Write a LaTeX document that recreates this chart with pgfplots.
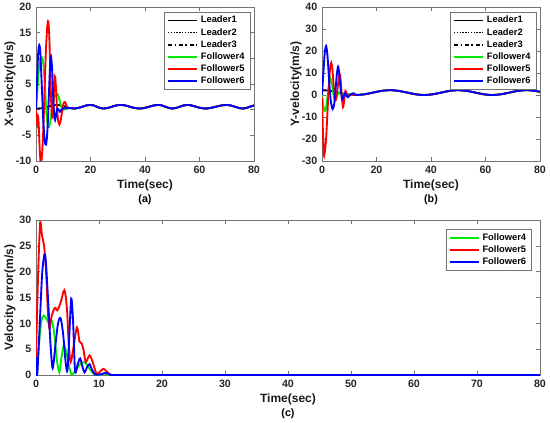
\documentclass[border=0pt]{standalone}
\usepackage{fontspec}
\setmainfont{Liberation Sans}
\usepackage{pgfplots}
\pgfplotsset{compat=1.18}
\usepackage{pgfplotstable}

\definecolor{axgray}{RGB}{115,115,115}
\definecolor{mgreen}{RGB}{0,235,0}
\definecolor{mred}{RGB}{255,0,0}
\definecolor{mblue}{RGB}{0,0,255}

% leader x-velocity
\pgfplotstableread{
t v
0 0.25
1.0 0.22
2.6 0.33
4.25 0.57
5.9 0.82
7.5 0.92
9.1 0.82
10.75 0.57
12.4 0.33
14 0.22
15.5 0.33
17 0.57
18.5 0.82
20 0.92
21.2 0.82
22.35 0.57
23.5 0.33
24.7 0.22
26.3 0.33
27.85 0.57
29.4 0.82
31 0.92
32.75 0.82
34.5 0.57
36.25 0.33
38 0.22
39.75 0.33
41.5 0.57
43.25 0.82
45 0.92
46.25 0.82
47.5 0.57
48.75 0.33
50 0.22
51.4 0.33
52.75 0.57
54.1 0.82
55.5 0.92
57.1 0.82
58.75 0.57
60.4 0.33
62 0.22
64 0.33
66 0.57
68 0.82
70 0.92
71.5 0.82
73 0.57
74.5 0.33
76 0.22
77.25 0.33
78.5 0.57
80 0.82
}\leadX

% leader y-velocity
\pgfplotstableread{
t v
0 2.2
3.125 1.88
6.25 1.1
9.375 0.32
12.5 0
15.625 0.32
18.75 1.1
21.875 1.88
25 2.2
28.125 1.88
31.25 1.1
34.375 0.32
37.5 0
40.625 0.32
43.75 1.1
46.875 1.88
50 2.2
53.125 1.88
56.25 1.1
59.375 0.32
62.5 0
65.625 0.32
68.75 1.1
71.875 1.88
75 2.2
78.125 1.88
80 1.44
}\leadY

\pgfplotsset{
 mystyle/.style={
  scale only axis,
  clip mode=individual,
  axis line style={axgray},
  every tick/.style={axgray, thin},
  major tick length=3pt,
  tick align=inside,
  xtick pos=both, ytick pos=both,
  tick label style={font=\fontsize{8}{9}\selectfont\bfseries, text=black!85},
  /pgf/number format/assume math mode=true,
  label style={font=\fontsize{9}{10}\selectfont\bfseries, text=black!90},
  xlabel={Time(sec)},
  xlabel style={yshift=2pt},
  every axis y label/.style={at={([xshift=-19.5pt]rel axis cs:0,0.5)}, rotate=90, anchor=center,
     font=\fontsize{9}{10}\selectfont\bfseries, text=black!90},
  legend style={font=\fontsize{7}{8}\selectfont\bfseries, draw=axgray, thin,
     inner xsep=2pt, inner ysep=1pt, row sep=-1.5pt},
  legend cell align=left,
  legend image code/.code={\draw[##1] (0pt,0pt) -- (22pt,0pt);},
  xmin=0, xmax=80,
  every axis plot/.append style={smooth},
 },
 fol/.style={line width=1.4pt},
 ldr/.style={line width=1.1pt, black},
}

\begin{document}
\begin{tikzpicture}
\path[use as bounding box] (0,0) rectangle (412.5pt,316.5pt);

% ---------------- (a)
\begin{axis}[mystyle,
  at={(27pt,195.75pt)}, anchor=south west,
  width=163.5pt, height=115.5pt,
  ymin=-10, ymax=20, ytick={-10,-5,0,5,10,15,20},
  xtick={0,20,40,60,80},
  ylabel={X-velocity(m/s)},
  legend style={at={(0.982,0.968)}, anchor=north east},
]
\addplot[ldr] table {\leadX};
\addlegendentry{Leader1}
\addplot[ldr, densely dotted] table {\leadX};
\addlegendentry{Leader2}
\addplot[ldr, dash dot] table {\leadX};
\addlegendentry{Leader3}
\addplot[fol, mgreen] coordinates {
(0,0) (0.5,4) (1.0,7.5) (1.5,9.5) (2.1,10.2) (2.7,9) (3.3,4.5) (3.9,-1.2) (4.6,-3.4) (5.2,-2.5)
(5.8,0) (6.5,2) (7.2,2.9) (7.9,3.0) (8.6,2) (9.3,0.5) (10,0) (10.8,0.1) (11.6,0.25) (12.4,0.33)};
\addlegendentry{Follower4}
\addplot[fol, mred] coordinates {
(0,0) (0.2,-1.8) (0.4,-2.8) (0.6,-1.4) (0.8,-1.3) (1.0,-3) (1.3,-7) (1.7,-10.3) (2.1,-9.5)
(2.6,-5) (3.1,3) (3.6,11) (4.1,16) (4.5,17.2) (4.9,14) (5.3,6) (5.7,0) (6.1,-1.5) (6.5,2.5)
(6.9,6.5) (7.3,4.5) (7.7,0.5) (8.1,-2) (8.6,-2.9) (9.1,-2) (9.6,-0.2) (10.1,1.2) (10.6,1.5)
(11.1,0.9) (11.6,0.3) (12.4,0.33)};
\addlegendentry{Follower5}
\addplot[fol, mblue] coordinates {
(0,0) (0.4,6) (0.8,11) (1.2,12.6) (1.6,11) (2.1,5) (2.7,-2.5) (3.2,-6) (3.7,-6.8) (4.2,-4)
(4.7,2.5) (5.2,9) (5.5,10.3) (5.9,8) (6.3,2.5) (6.7,-1) (7.0,-2) (7.4,-1) (7.8,0.2) (8.3,0)
(8.8,-0.4) (9.3,0) (10,0.25) (11,0.3) (11.8,0.3) (12.4,0.33)};
\addlegendentry{Follower6}
\addplot[fol, mgreen, forget plot, restrict x to domain=12.3:80] table {\leadX};
\addplot[fol, mred, forget plot, restrict x to domain=12.3:80] table {\leadX};
\addplot[fol, mblue, forget plot, restrict x to domain=12.3:80] table {\leadX};
\node[font=\fontsize{8}{9}\selectfont\bfseries] at (rel axis cs:0.5,0) [yshift=-29pt] {(a)};
\end{axis}

% ---------------- (b)
\begin{axis}[mystyle,
  at={(241.5pt,195.75pt)}, anchor=south west,
  width=163.5pt, height=115.5pt,
  ymin=-30, ymax=40, ytick={-30,-20,-10,0,10,20,30,40},
  xtick={0,20,40,60,80},
  ylabel={Y-velocity(m/s)},
  legend style={at={(0.982,0.968)}, anchor=north east},
]
\addplot[ldr] table {\leadY};
\addlegendentry{Leader1}
\addplot[ldr, densely dotted] table {\leadY};
\addlegendentry{Leader2}
\addplot[ldr, dash dot] table {\leadY};
\addlegendentry{Leader3}
\addplot[fol, mgreen] coordinates {
(0,0) (0.4,-4) (0.8,-6.8) (1.2,-7.2) (1.6,-5) (2.1,0) (2.6,5) (3.1,7.5) (3.6,5.5) (4.1,1)
(4.6,-2) (5.1,-1.5) (5.7,0) (6.3,1) (7,1) (8,0.5) (9.375,0.32) (12.5,0)};
\addlegendentry{Follower4}
\addplot[fol, mred] coordinates {
(0,-1) (0.3,-15) (0.7,-27.3) (1.1,-25) (1.5,-20) (2.0,-8) (2.5,4) (3.0,12.5) (3.4,14.7)
(3.8,12) (4.3,4) (4.8,-2.5) (5.3,-1) (5.8,4) (6.5,9.5) (6.9,6) (7.3,-1) (7.7,-5.6) (8.1,-3)
(8.6,1.8) (9.1,0.5) (9.6,-0.5) (10.3,0.2) (11.3,0.1) (12.5,0)};
\addlegendentry{Follower5}
\addplot[fol, mblue] coordinates {
(0,0) (0.5,10) (1.0,19) (1.5,22.3) (2.0,18) (2.6,7) (3.2,-2.5) (3.9,-6.4) (4.5,-4) (5.0,3)
(5.5,10) (5.9,12.9) (6.3,10) (6.8,3) (7.3,-1.5) (7.6,-2) (8.1,0) (8.5,1) (9.0,-0.5) (9.5,-1)
(10.3,0) (11.5,0.8) (12.5,0)};
\addlegendentry{Follower6}
\addplot[fol, mgreen, forget plot, restrict x to domain=12.4:80] table {\leadY};
\addplot[fol, mred, forget plot, restrict x to domain=12.4:80] table {\leadY};
\addplot[fol, mblue, forget plot, restrict x to domain=12.4:80] table {\leadY};
\node[font=\fontsize{8}{9}\selectfont\bfseries] at (rel axis cs:0.5,0) [yshift=-29pt] {(b)};
\end{axis}

% ---------------- (c)
\begin{axis}[mystyle,
  at={(27pt,35.25pt)}, anchor=south west,
  width=378pt, height=116.25pt,
  ymin=0, ymax=30, ytick={0,5,10,15,20,25,30},
  xtick={0,10,20,30,40,50,60,70,80},
  ylabel={Velocity error(m/s)},
  legend style={at={(0.9835,0.942)}, anchor=north east},
]
\addplot[fol, mgreen] coordinates {
(0,0) (0.4,5) (0.8,10) (1.2,11.5) (1.7,10.8) (2.1,10) (2.5,10.5) (2.9,8) (3.3,3) (3.7,0.5)
(4.0,3) (4.4,5.7) (4.8,4.5) (5.2,2) (5.6,0.2) (6.1,0.5) (6.6,1.5) (7.3,2.4) (7.9,2.3) (8.5,1.2)
(9.2,0.2) (10,0) (11,0.3) (12,0) (20,0) (40,0) (60,0) (80,0)};
\addlegendentry{Follower4}
\addplot[fol, mred] coordinates {
(0,3.5) (0.3,18) (0.65,29.3) (0.95,27) (1.3,24.8) (1.6,20) (1.9,12) (2.15,9) (2.5,11.5) (3.0,13)
(3.4,12.5) (3.9,14) (4.5,16.4) (4.9,13) (5.2,6) (5.5,2.5) (5.9,5) (6.5,9.2) (6.9,6.5) (7.25,6.1)
(7.6,4.5) (7.9,2.5) (8.5,3.8) (9.0,2.5) (9.6,0.3) (10.2,0.7) (10.7,1.2) (11.2,0.7) (11.8,0.05)
(12.5,0) (20,0) (40,0) (60,0) (80,0)};
\addlegendentry{Follower5}
\addplot[fol, mblue] coordinates {
(0,3.5) (0.2,0.2) (0.6,10) (1.0,20) (1.45,23.3) (1.9,15) (2.3,6) (2.65,1.3) (3.1,6) (3.5,10)
(3.9,11) (4.3,8) (4.7,2.5) (5.0,1) (5.3,8) (5.6,14.8) (5.9,10) (6.2,0.8) (6.6,2) (7.0,3.2)
(7.4,1.5) (7.7,0.5) (8.1,1.5) (8.5,2.1) (8.9,1) (9.4,0.1) (10.2,0.1) (11,0.4) (11.8,0.1) (12.5,0)
(20,0) (40,0) (60,0) (80,0)};
\addlegendentry{Follower6}
\node[font=\fontsize{8}{9}\selectfont\bfseries] at (rel axis cs:0.5,0) [yshift=-29pt] {(c)};
\end{axis}
\end{tikzpicture}
\end{document}
